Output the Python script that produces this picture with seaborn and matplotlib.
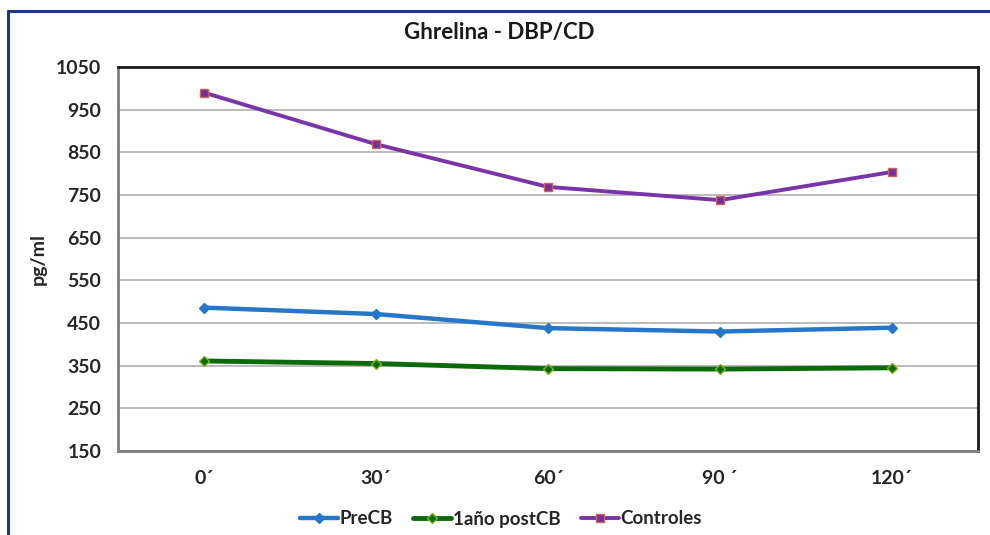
import matplotlib
matplotlib.use("Agg")
import matplotlib.pyplot as plt
import seaborn as sns
import pandas as pd
from matplotlib.lines import Line2D

# Time points and ghrelin levels (pg/ml)
tiempos = ["0´", "30´", "60´", "90 ´", "120´"]
pre_cb = [486, 471, 438, 430, 439]
post_cb = [361, 355, 343, 342, 345]
controles = [990, 869, 769, 738, 804]
series_names = ["PreCB", "1año postCB", "Controles"]
yticks = [150, 250, 350, 450, 550, 650, 750, 850, 950, 1050]

sns.set_theme(style="white")
plt.rcParams["font.family"] = ["Lato", "DejaVu Sans"]

rows = []
for name, vals in zip(series_names, [pre_cb, post_cb, controles]):
    for i, v in enumerate(vals):
        rows.append({"pos": i, "valor": v, "serie": name})
df = pd.DataFrame(rows)

fig = plt.figure(figsize=(9.9, 5.35), dpi=100)
ax = fig.add_axes([118 / 990, 1 - 451 / 535, (978 - 118) / 990, (451 - 67) / 535])

styles = {
    "PreCB": dict(color="#2677C9", marker="D", mec="#2677C9", mfc="#2677C9", ms=5, lw=3.2),
    "1año postCB": dict(color="#0B6B0B", marker="D", mec="#7DB317", mfc="#0B6B0B", ms=5, lw=3.5),
    "Controles": dict(color="#7A33A8", marker="s", mec="#D0605A", mfc="#7030A0", ms=6, lw=2.8),
}
for name in series_names:
    st = styles[name]
    sns.lineplot(data=df[df["serie"] == name], x="pos", y="valor", ax=ax,
                 color=st["color"], linewidth=st["lw"], marker=st["marker"],
                 markersize=st["ms"], markeredgecolor=st["mec"],
                 markerfacecolor=st["mfc"], markeredgewidth=1.0,
                 label=name, legend=False, zorder=3)

ax.set_xlim(-0.5, len(tiempos) - 0.5)
ax.set_ylim(150, 1050)
ax.set_yticks(yticks)
ax.set_yticklabels([str(t) for t in yticks], fontsize=14, fontweight="bold")
ax.set_xticks(range(len(tiempos)))
ax.set_xticklabels(tiempos, fontsize=14, fontweight="bold")
ax.tick_params(axis="both", length=0, pad=12)
ax.tick_params(axis="x", pad=14)
ax.set_xlabel("")
ax.set_ylabel("pg/ml", fontsize=14, fontweight="bold", labelpad=7)
ax.grid(axis="y", color="#B5B5B5", linewidth=1.3)
ax.set_axisbelow(True)

for side in ["top", "right"]:
    ax.spines[side].set_color("#1A1A1A")
    ax.spines[side].set_linewidth(2.0)
for side in ["left", "bottom"]:
    ax.spines[side].set_color("#7F7F7F")
    ax.spines[side].set_linewidth(2.0)

fig.text(499 / 990, 1 - 33 / 535, "Ghrelina - DBP/CD", ha="center", va="center",
         fontsize=16, fontweight="bold", color="#1A1A1A")

handles = [Line2D([0], [0], color=styles[n]["color"], lw=styles[n]["lw"],
                  marker=styles[n]["marker"], ms=styles[n]["ms"],
                  mec=styles[n]["mec"], mfc=styles[n]["mfc"]) for n in series_names]
fig.legend(handles, series_names, loc="center", bbox_to_anchor=(501 / 990, 1 - 519 / 535),
           ncol=3, frameon=False, handlelength=2.0, handletextpad=0.1, columnspacing=1.1,
           prop={"size": 13.5, "weight": "bold"})

# Outer chart frame (top and left edges)
fig.add_artist(Line2D([8 / 990, 1.0], [1 - 11 / 535, 1 - 11 / 535], transform=fig.transFigure,
                      color="#1B3A7A", lw=2.2))
fig.add_artist(Line2D([8 / 990, 8 / 990], [0.0, 1 - 11 / 535], transform=fig.transFigure,
                      color="#1B3A7A", lw=2.2))

fig.savefig("out.png", dpi=100)
